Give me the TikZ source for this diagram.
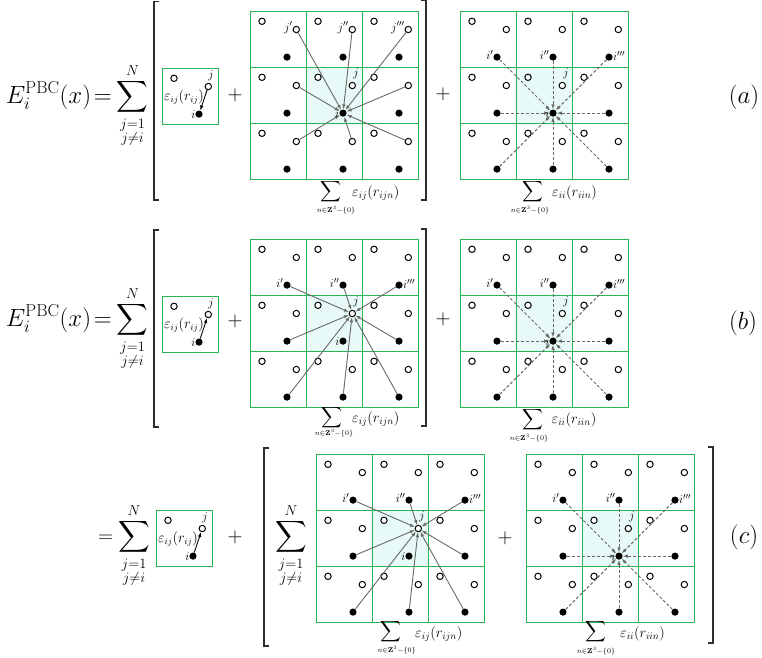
\documentclass[tikz,border=0pt]{standalone}
\usepackage{amsmath,amssymb}
\usetikzlibrary{arrows.meta,calc}
\definecolor{pbcgreen}{RGB}{40,180,85}
\definecolor{cellfill}{RGB}{232,250,247}
\definecolor{arrgray}{RGB}{105,105,105}
\definecolor{brk}{RGB}{45,45,45}
\tikzset{
 opc/.style={circle,draw=black,fill=white,line width=1pt,inner sep=0pt,minimum size=6.4pt},
 flc/.style={circle,fill=black,inner sep=0pt,minimum size=7.2pt},
 gline/.style={pbcgreen,line width=1.5pt},
 sarr/.style={draw=arrgray,line width=0.9pt,-{Latex[length=5pt,width=3.6pt]}},
 darr/.style={sarr,dash pattern=on 3pt off 2pt},
 barr/.style={draw=black,line width=0.9pt,-{Latex[length=5pt,width=3.6pt]}},
 lbl/.style={inner sep=0pt,font=\fontsize{13}{13}\selectfont},
 boxtxt/.style={inner sep=0pt,font=\fontsize{13.5}{14}\selectfont},
 eqtxt/.style={inner sep=0pt,font=\fontsize{22}{26}\selectfont},
 bigtxt/.style={inner sep=0pt,font=\fontsize{25}{30}\selectfont},
 sumtxt/.style={inner sep=0pt,font=\fontsize{14.5}{16}\selectfont},
 subtxt/.style={inner sep=0pt,font=\fontsize{7}{8}\selectfont},
 brkt/.style={draw=brk,line width=1.3pt},
}
\newcommand{\pbccell}{56}
\newcommand{\pbcgrid}[3]{%
 \fill[cellfill] ({#2+\pbccell},{#3+\pbccell}) rectangle ({#2+2*\pbccell},{#3+2*\pbccell});
 \draw[gline] (#2,#3) rectangle ({#2+3*\pbccell},{#3+3*\pbccell})
   ({#2+\pbccell},#3) -- ({#2+\pbccell},{#3+3*\pbccell})
   ({#2+2*\pbccell},#3) -- ({#2+2*\pbccell},{#3+3*\pbccell})
   (#2,{#3+\pbccell}) -- ({#2+3*\pbccell},{#3+\pbccell})
   (#2,{#3+2*\pbccell}) -- ({#2+3*\pbccell},{#3+2*\pbccell});
 \foreach \pr in {0,1,2}{\foreach \pc in {0,1,2}{
   \node[opc] (#1-a-\pr\pc) at ({#2+\pc*\pbccell+11.5},{#3+\pr*\pbccell+9.8}) {};
   \node[opc] (#1-b-\pr\pc) at ({#2+\pc*\pbccell+45.8},{#3+\pr*\pbccell+18}) {};
   \node[flc] (#1-f-\pr\pc) at ({#2+\pc*\pbccell+36.5},{#3+\pr*\pbccell+45.6}) {};
 }}%
}
\newcommand{\arrJtoI}[1]{%
 \foreach \pr/\pc in {0/0,0/1,0/2,1/0,1/2,2/0,2/1,2/2}{\draw[sarr] (#1-b-\pr\pc) -- (#1-f-11);}}
\newcommand{\arrItoJ}[1]{%
 \foreach \pr/\pc in {0/0,0/1,0/2,1/0,1/2,2/0,2/1,2/2}{\draw[sarr] (#1-f-\pr\pc) -- (#1-b-11);}}
\newcommand{\arrItoI}[1]{%
 \foreach \pr/\pc in {0/0,0/1,0/2,1/0,1/2,2/0,2/1,2/2}{\draw[darr] (#1-f-\pr\pc) -- (#1-f-11);}}
\newcommand{\ilabels}[1]{%
 \node[lbl,anchor=east] (#1-l1) at ($(#1-f-00.west)+(0.3,-2)$) {$i'$};
 \node[lbl,anchor=east] (#1-l2) at ($(#1-f-01.west)+(0.3,-2)$) {$i''$};
 \node[lbl,anchor=west] (#1-l3) at ($(#1-f-02.east)+(0,-1)$) {$i'''$};
 \node[lbl] (#1-lj) at ($(#1-b-11)+(3.5,-12)$) {$j$};
 \node[lbl,anchor=east] (#1-li) at ($(#1-f-11.west)+(0.5,0)$) {$i$};}
\newcommand{\jlabels}[1]{%
 \node[lbl,anchor=east] (#1-l1) at ($(#1-b-00.west)+(0.3,-2)$) {$j'$};
 \node[lbl,anchor=east] (#1-l2) at ($(#1-b-01.west)+(0.3,-2)$) {$j''$};
 \node[lbl,anchor=east] (#1-l3) at ($(#1-b-02.west)+(0.3,-2)$) {$j'''$};
 \node[lbl] (#1-lj) at ($(#1-b-11)+(3.5,-12)$) {$j$};
 \node[lbl,anchor=east] (#1-li) at ($(#1-f-11.west)+(0.5,0)$) {$i$};}
\newcommand{\pbcbox}[3]{%
 \node[draw=pbcgreen,line width=1.5pt,minimum size=56pt,inner sep=0pt,anchor=north west,outer sep=0pt] (#1) at (#2,#3) {};
 \node[opc] (#1-a) at ({#2+11.5},{#3+9.8}) {};
 \node[opc] (#1-b) at ({#2+45.8},{#3+18}) {};
 \node[flc] (#1-f) at ({#2+36.5},{#3+45.6}) {};
 \node[boxtxt] (#1-t) at ({#2+21.5},{#3+28.5}) {$\varepsilon_{ij}(r_{ij})$};
 \node[lbl] (#1-lj) at ($(#1-b)+(2.5,-11)$) {$j$};
 \node[lbl,anchor=east] (#1-li) at ($(#1-f.west)+(0.5,0)$) {$i$};}
\newcommand{\gsum}[8]{%
 \node[sumtxt] (#1-s) at (#2,#3) {$\displaystyle\sum$};
 \node[subtxt] (#1-n) at (#4,#5) {$n{\in}\mathbf{Z}^3{-}\{0\}$};
 \node[sumtxt,anchor=west] (#1-e) at (#6,#7) {$#8$};}
\begin{document}
\begin{tikzpicture}[x=1pt,y=-1pt]
\useasboundingbox (0,0) rectangle (762,657);
% ---------------- (a)
\node[bigtxt,anchor=base east] (eqa) at (112,103) {$E_i^{\mathrm{PBC}}(x)\!=$};
\node[eqtxt,anchor=base] (suma) at (132.5,102.5) {$\displaystyle\sum_{\substack{j=1\\ j\neq i}}^{N}$};
\draw[brkt] (159,1.7) -- (154,1.7) -- (154,200) -- (159,200);
\pbcbox{ba}{162.5}{68.5}
\draw[barr] (ba-b) -- (ba-f);
\node[eqtxt] (pa1) at (235,95) {$+$};
\pbcgrid{ga1}{250.5}{11.5}
\arrJtoI{ga1}
\jlabels{ga1}
\gsum{ga1}{331}{192}{336}{210}{352}{193}{\varepsilon_{ij}(r_{ijn})}
\draw[brkt] (421,0.7) -- (426,0.7) -- (426,200) -- (421,200);
\node[eqtxt] (pa2) at (443,94.5) {$+$};
\pbcgrid{ga2}{460.5}{11.5}
\arrItoI{ga2}
\ilabels{ga2}
\gsum{ga2}{532.5}{192}{530}{210}{552}{193}{\varepsilon_{ii}(r_{iin})}
\node[bigtxt] (la) at (744,97) {$(a)$};
% ---------------- (b)
\node[bigtxt,anchor=base east] (eqb) at (112,326) {$E_i^{\mathrm{PBC}}(x)\!=$};
\node[eqtxt,anchor=base] (sumb) at (132.5,325.5) {$\displaystyle\sum_{\substack{j=1\\ j\neq i}}^{N}$};
\draw[brkt] (159,230) -- (154,230) -- (154,427) -- (159,427);
\pbcbox{bb}{162.5}{296.5}
\draw[barr] (bb-f) -- (bb-b);
\node[eqtxt] (pb1) at (235,321) {$+$};
\pbcgrid{gb1}{250.5}{239.5}
\arrItoJ{gb1}
\ilabels{gb1}
\gsum{gb1}{332}{418}{334}{433}{352}{419}{\varepsilon_{ij}(r_{ijn})}
\draw[brkt] (421,229) -- (426,229) -- (426,426) -- (421,426);
\node[eqtxt] (pb2) at (443,319) {$+$};
\pbcgrid{gb2}{460.5}{239.5}
\arrItoI{gb2}
\ilabels{gb2}
\gsum{gb2}{533}{420}{529}{438}{551.5}{420}{\varepsilon_{ii}(r_{iin})}
\node[bigtxt] (lb) at (743,323) {$(b)$};
% ---------------- (c)
\node[eqtxt,anchor=base east] (eqc) at (113.3,542.5) {$=$};
\node[eqtxt,anchor=base] (sumc) at (134,542.5) {$\displaystyle\sum_{\substack{j=1\\ j\neq i}}^{N}$};
\pbcbox{bc}{156.5}{510.5}
\draw[barr] (bc-f) -- (bc-b);
\node[eqtxt] (pc1) at (235,537) {$+$};
\draw[brkt] (269,448) -- (264,448) -- (264,646) -- (269,646);
\node[eqtxt,anchor=base] (sumc2) at (291,542.5) {$\displaystyle\sum_{\substack{j=1\\ j\neq i}}^{N}$};
\pbcgrid{gc1}{316.5}{454.5}
\arrItoJ{gc1}
\ilabels{gc1}
\gsum{gc1}{391}{632}{396.7}{650}{415}{634}{\varepsilon_{ij}(r_{ijn})}
\node[eqtxt] (pc2) at (505,538) {$+$};
\pbcgrid{gc2}{526.5}{454.5}
\arrItoI{gc2}
\ilabels{gc2}
\gsum{gc2}{596}{632}{596}{651}{620}{634}{\varepsilon_{ii}(r_{iin})}
\draw[brkt] (708,447) -- (713,447) -- (713,643) -- (708,643);
\node[bigtxt] (lc) at (744,537.5) {$(c)$};
\end{tikzpicture}
\end{document}
